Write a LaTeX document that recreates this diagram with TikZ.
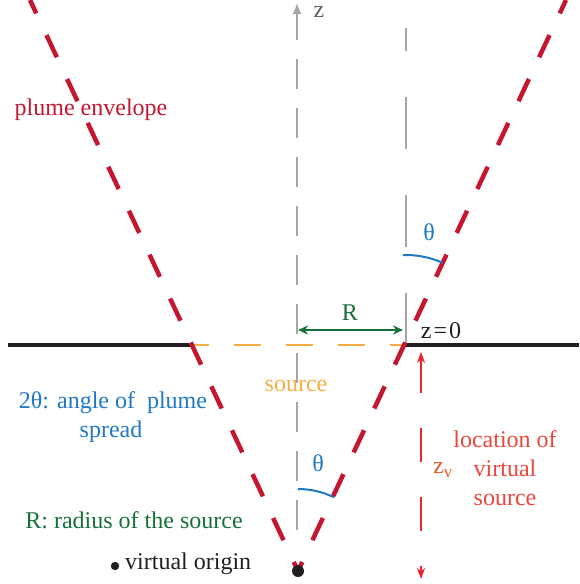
\documentclass[tikz,border=0pt]{standalone}
\usepackage{fontspec}
\setmainfont{Liberation Serif}
\usetikzlibrary{arrows.meta}
\definecolor{envred}{RGB}{196,22,48}
\definecolor{blk}{RGB}{35,31,32}
\definecolor{axgray}{RGB}{165,165,168}
\definecolor{zgray}{RGB}{95,95,98}
\definecolor{srcorange}{RGB}{247,172,65}
\definecolor{angblue}{RGB}{30,120,195}
\definecolor{rgreen}{RGB}{22,112,58}
\definecolor{zvred}{RGB}{236,36,48}
\definecolor{zvtext}{RGB}{236,70,60}
\definecolor{zvorange}{RGB}{230,90,40}
\tikzset{
  lbl/.style={font=\fontsize{24}{29}\selectfont, inner sep=0pt, anchor=center},
  envelope/.style={envred, line width=4.5pt, dash pattern=on 24.5pt off 24pt, dash phase=14.5pt},
  ground/.style={blk, line width=4pt},
  axisline/.style={axgray, line width=1.6pt},
  anglearc/.style={angblue, line width=2pt}
}
\begin{document}
\begin{tikzpicture}[x=1pt,y=-1pt]
\useasboundingbox (0,0) rectangle (579,584);
\coordinate (O) at (298,571);
\coordinate (SL) at (192,345);
\coordinate (SR) at (404,345);
\coordinate (TL) at (30,0);
\coordinate (TR) at (566,0);
\coordinate (GL) at (8,345);
\coordinate (GR) at (579,345);
\coordinate (Abot) at (297,530);
\coordinate (Atop) at (297,3);
\coordinate (Vbot) at (406,345);
\coordinate (Vtop) at (406,28);
\coordinate (Ra) at (298,330);
\coordinate (Rb) at (403,330);
\coordinate (Zt) at (421,352);
\coordinate (Zb) at (421,579);
% ground
\draw[ground] (GL) -- (SL);
\draw[ground] (SR) -- (GR);
% source
\draw[srcorange, line width=2pt, dash pattern=on 27pt off 25pt, dash phase=10pt] (SL) -- (SR);
% axes
\draw[axisline, dash pattern=on 30pt off 19pt, -{Latex[length=11pt,width=9pt]}] (Abot) -- (Atop);
\draw[axisline, dash pattern=on 52pt off 46pt] (Vbot) -- (Vtop);
% envelope
\begin{scope}
\clip (0,0) rectangle (579,584);
\draw[envelope] (O) -- (TL);
\draw[envelope] (O) -- (TR);
\end{scope}
% R arrow
\draw[rgreen, line width=2pt, {Stealth[length=10pt,width=9pt]}-{Stealth[length=10pt,width=9pt]}] (Ra) -- (Rb);
% angles
\draw[anglearc] ([shift={(-92:90)}]Vbot) arc[start angle=-92, end angle=-66, radius=90];
\draw[anglearc] ([shift={(-90:82)}]O) arc[start angle=-90, end angle=-64, radius=82];
% z_v arrow
\draw[zvred, line width=2pt, dash pattern=on 34pt off 35pt, {Stealth[length=11pt,width=8pt]}-{Stealth[length=11pt,width=8pt]}] (Zt) -- (Zb);
% origin dot
\fill[blk] (O) circle (6pt);
\fill[blk] (115,566) circle (4.2pt);
% labels
\node[lbl, zgray] (zlab) at (319,12) {z};
\node[lbl, rgreen] (Rlab) at (350,313) {R};
\node[lbl, blk] (z0) at (441,331) {z{\kern2pt}={\kern2pt}0};
\node[lbl, angblue] (th1) at (429,232) {θ};
\node[lbl, angblue] (th2) at (318,463) {θ};
\node[lbl, envred] (plume) at (91,110) {plume envelope};
\node[lbl, srcorange] (srclab) at (296,386) {source};
\node[lbl, angblue] (spread1) at (113,403) {2θ: angle of\ \ plume};
\node[lbl, angblue] (spread2) at (111,432) {spread};
\node[lbl, rgreen] (radius) at (134,520) {R: radius of the source};
\node[lbl, blk, anchor=west] (vorig) at (125,564) {virtual origin};
\node[lbl, zvtext, align=center] (loc) at (505,468) {location of\\virtual\\source};
\node[lbl, zvorange] (zv) at (443,470) {z\textsubscript{v}};
\end{tikzpicture}
\end{document}
